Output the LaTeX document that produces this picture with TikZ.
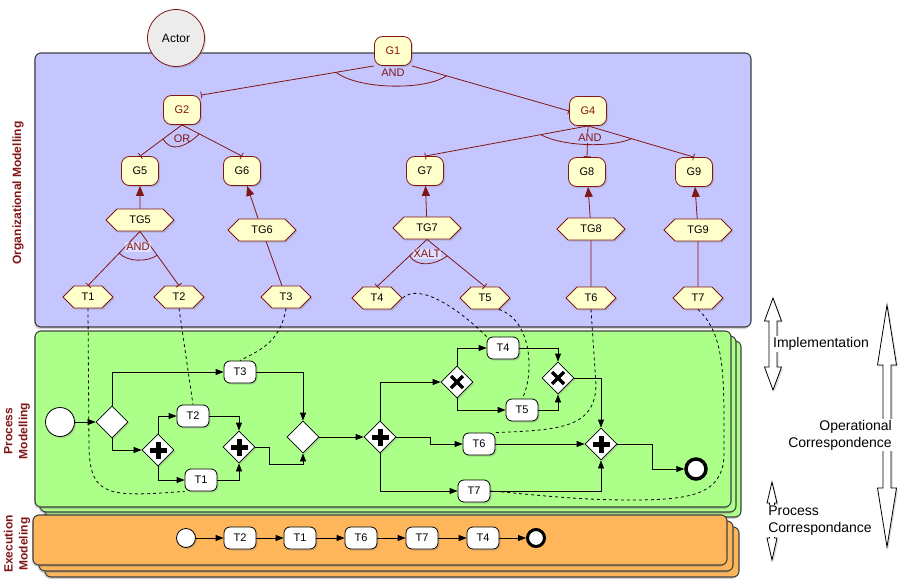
\documentclass[tikz,border=0pt]{standalone}
\usepackage{fontspec}
\setmainfont{Liberation Sans}
\usetikzlibrary{shapes.geometric,shapes.symbols,shadows,arrows.meta}

\definecolor{orgblue}{RGB}{198,198,255}
\definecolor{procgreen}{RGB}{172,255,136}
\definecolor{execorange}{RGB}{255,182,90}
\definecolor{goalyellow}{RGB}{255,255,204}
\definecolor{darkmaroon}{RGB}{128,22,22}
\definecolor{actorgray}{RGB}{236,236,236}

\tikzset{
  softshadow/.style={drop shadow={opacity=.3, shadow xshift=1.5pt, shadow yshift=-1.5pt}},
  panel/.style={draw=black!75, line width=1.1pt, rounded corners=6pt,
    drop shadow={opacity=.35, shadow xshift=-1pt, shadow yshift=-2pt}},
  actor/.style={circle, draw=darkmaroon, fill=actorgray, line width=.8pt,
    minimum size=57pt, font=\fontsize{12}{14}\selectfont, softshadow},
  goal/.style={draw=darkmaroon, fill=goalyellow, line width=.8pt, rounded corners=8pt,
    minimum width=37pt, minimum height=29pt, inner sep=1pt,
    font=\fontsize{11}{13}\selectfont, softshadow},
  hexa/.style={signal, signal to=east and west, draw=darkmaroon, fill=goalyellow,
    line width=.8pt, minimum height=22pt, inner sep=1pt,
    font=\fontsize{11}{13}\selectfont, softshadow},
  orgtask/.style={hexa, minimum width=50pt},
  taskgoal/.style={hexa, minimum width=68pt},
  decomp/.style={draw=darkmaroon, line width=.8pt, -{Bar[width=7pt]}},
  contrib/.style={draw=darkmaroon, line width=.8pt, -{Triangle[length=10pt,width=8pt]}},
  means/.style={draw=darkmaroon, line width=.8pt},
  andarc/.style={draw=darkmaroon, line width=.8pt},
  oplabel/.style={text=darkmaroon, inner sep=1pt, font=\fontsize{11}{13}\selectfont},
  pale/.style={fill=white, fill opacity=.45, text opacity=1},
  link/.style={draw=black, dashed, line width=.8pt},
  activity/.style={draw=black, fill=white, rounded corners=6pt, line width=.8pt,
    minimum width=32pt, minimum height=22pt, inner sep=1pt,
    font=\fontsize{11}{13}\selectfont, softshadow},
  gate/.style={diamond, draw=black, fill=white, line width=.8pt,
    minimum size=32pt, inner sep=0pt, softshadow},
  andgate/.style={gate, path picture={
    \fill[black] (path picture bounding box.center) ++(-8.5,-2.5) rectangle ++(17,5);
    \fill[black] (path picture bounding box.center) ++(-2.5,-8.5) rectangle ++(5,17);}},
  xorgate/.style={gate, path picture={
    \draw[black, line width=3.5pt] (path picture bounding box.center) ++(-6,-6) -- ++(12,12);
    \draw[black, line width=3.5pt] (path picture bounding box.center) ++(-6,6) -- ++(12,-12);}},
  event/.style={circle, draw=black, fill=white, line width=.8pt, minimum size=29pt,
    inner sep=0pt, softshadow},
  endevent/.style={circle, draw=black, fill=white, line width=3.5pt, minimum size=20pt,
    inner sep=0pt},
  flow/.style={draw=black, line width=.8pt, -{Triangle[length=8pt,width=6pt]}},
  sidelabel/.style={rotate=90, text=darkmaroon, align=center,
    font=\bfseries\fontsize{12}{15}\selectfont},
  corrtext/.style={fill=white, inner sep=1pt, font=\fontsize{14}{17}\selectfont},
  bigarrow/.style={draw=black, fill=white, line width=.8pt, softshadow}
}

\begin{document}
\begin{tikzpicture}[x=1pt, y=-1pt]
	\useasboundingbox (0,0) rectangle (898,581);
	
	% panels
	\draw[panel, fill=orgblue] (35,53) rectangle (751,327);
	\draw[panel, fill=procgreen] (45,341) rectangle (741,517);
	\draw[panel, fill=procgreen] (40,336) rectangle (736,512);
	\draw[panel, fill=procgreen] (35,331) rectangle (731,507);
	\draw[panel, fill=execorange] (45,527) rectangle (739,577);
	\draw[panel, fill=execorange] (39,521) rectangle (733,571);
	\draw[panel, fill=execorange] (33,515) rectangle (727,565);
	
	\node[sidelabel] (orglab) at (18,193) {Organizational Modelling};
	\node[sidelabel] (proclab) at (17,431) {Process\\Modelling};
	\node[sidelabel] (execlab) at (17,544) {Execution\\Modeling};
	
	% organizational model
	\node[actor] (actor) at (176,38) {Actor};
	\node[goal, text=darkmaroon] (G1) at (393,51) {G1};
	\node[goal, text=darkmaroon] (G2) at (182,110) {G2};
	\node[goal, text=darkmaroon] (G4) at (588,111) {G4};
	\node[goal] (G5) at (140,171) {G5};
	\node[goal] (G6) at (242,171) {G6};
	\node[goal] (G7) at (425,171) {G7};
	\node[goal] (G8) at (587,172) {G8};
	\node[goal] (G9) at (694,172) {G9};
	
	\node[taskgoal] (TG5) at (140,220) {TG5};
	\node[taskgoal] (TG6) at (262,230) {TG6};
	\node[taskgoal] (TG7) at (427,228) {TG7};
	\node[taskgoal] (TG8) at (591,229) {TG8};
	\node[taskgoal] (TG9) at (698,230) {TG9};
	
	\node[orgtask] (oT1) at (88,297) {T1};
	\node[orgtask] (oT2) at (179,297) {T2};
	\node[orgtask] (oT3) at (286,297) {T3};
	\node[orgtask] (oT4) at (377,298) {T4};
	\node[orgtask] (oT5) at (485,298) {T5};
	\node[orgtask] (oT6) at (591,298) {T6};
	\node[orgtask] (oT7) at (698,298) {T7};
	
	\draw[decomp] (G1.south west) -- coordinate[pos=.22] (g1l) (G2.north east);
	\draw[decomp] (G1.south east) -- coordinate[pos=.22] (g1r) (G4.west);
	\draw[andarc] (g1l) .. controls +(22,17) and +(-22,15) .. (g1r);
	\node[oplabel] (and1) at (393,73) {AND};
	
	\draw[decomp] (G2.south) -- coordinate[pos=.45] (g2l) (G5.north);
	\draw[decomp] (G2.south) -- coordinate[pos=.29] (g2r) (G6.north);
	\draw[andarc] (g2l) .. controls +(8,14) and +(-14,13) .. (g2r);
	\node[oplabel] (or2) at (182,139) {OR};
	
	\draw[decomp] (G4.south) -- coordinate[pos=.29] (g4l) (G7.north);
	\draw[decomp] (G4.south) -- (G8.north);
	\draw[decomp] (G4.south) -- coordinate[pos=.41] (g4r) (G9.north);
	\draw[andarc] (g4l) .. controls +(22,12) and +(-20,9) .. (g4r);
	\node[oplabel, fill=orgblue] (and4) at (590,138) {AND};
	
	\draw[decomp] (TG5.south) -- coordinate[pos=.4] (tg5l) (oT1.north);
	\draw[decomp] (TG5.south) -- coordinate[pos=.44] (tg5r) (oT2.north);
	\draw[andarc] (tg5l) .. controls +(8,9) and +(-10,7) .. (tg5r);
	\node[oplabel, pale] (and5) at (138,247) {AND};
	
	\draw[decomp] (TG7.south) -- coordinate[pos=.35] (tg7l) (oT4.north);
	\draw[decomp] (TG7.south) -- coordinate[pos=.35] (tg7r) (oT5.north);
	\draw[andarc] (tg7l) .. controls +(8,12) and +(-12,9) .. (tg7r);
	\node[oplabel, pale] (xalt7) at (427,254) {XALT};
	
	\draw[contrib] (TG5) -- (G5);
	\draw[contrib] (TG6) -- (G6);
	\draw[contrib] (TG7) -- (G7);
	\draw[contrib] (TG8) -- (G8);
	\draw[contrib] (TG9) -- (G9);
	\draw[means] (oT3) -- (TG6);
	\draw[means] (oT6) -- (TG8);
	\draw[means] (oT7) -- (TG9);
	
	% process model
	\node[event] (pstart) at (60,422) {};
	\node[gate] (D1) at (112,422) {};
	\node[andgate] (P1) at (158,450) {};
	\node[activity] (pT2) at (193,416) {T2};
	\node[activity] (pT1) at (201,480) {T1};
	\node[activity] (pT3) at (240,372) {T3};
	\node[andgate] (P2) at (239,447) {};
	\node[gate] (D2) at (303,437) {};
	\node[andgate] (P3) at (380,437) {};
	\node[xorgate] (X1) at (457,382) {};
	\node[activity] (pT4) at (503,348) {T4};
	\node[activity] (pT5) at (522,410) {T5};
	\node[xorgate] (X2) at (558,378) {};
	\node[activity] (pT6) at (479,444) {T6};
	\node[activity] (pT7) at (474,491) {T7};
	\node[andgate] (P4) at (601,444) {};
	\node[endevent] (pend) at (696,469) {};
	
	\draw[flow] (pstart) -- (D1);
	\draw[flow] (D1.north) |- (pT3);
	\draw[flow] (D1.south) |- (P1);
	\draw[flow] (P1.north) |- (pT2);
	\draw[flow] (P1.south) |- (pT1);
	\draw[flow] (pT2) -| (P2);
	\draw[flow] (pT1) -| (P2);
	\draw[flow] (P2.east) -- ++(14,0) -- ++(0,17) -| (D2.south);
	\draw[flow] (pT3) -| (D2);
	\draw[flow] (D2) -- (P3);
	\draw[flow] (P3.north) |- (X1);
	\draw[flow] (X1.north) |- (pT4);
	\draw[flow] (X1.south) |- (pT5);
	\draw[flow] (pT4) -| (X2);
	\draw[flow] (pT5) -| (X2);
	\draw[flow] (X2) -| (P4);
	\draw[flow] (P3.east) -- ++(34,0) |- (pT6);
	\draw[flow] (pT6) -- (P4);
	\draw[flow] (P3.south) |- (pT7);
	\draw[flow] (pT7) -| (P4);
	\draw[flow] (P4.east) -- ++(35,0) |- (pend);
	
	% execution model
	\node[event, minimum size=19pt] (estart) at (186,538) {};
	\node[activity] (eT2) at (240,538) {T2};
	\node[activity] (eT1) at (300,538) {T1};
	\node[activity] (eT6) at (361,538) {T6};
	\node[activity] (eT7) at (422,538) {T7};
	\node[activity] (eT4) at (483,538) {T4};
	\node[endevent, line width=3pt, minimum size=17pt] (eend) at (536,538) {};
	\foreach \a/\b in {estart/eT2, eT2/eT1, eT1/eT6, eT6/eT7, eT7/eT4, eT4/eend}
		\draw[flow] (\a) -- (\b);
	
	% correspondence links
	\draw[link] (oT1.south) -- (89,450) .. controls (91,497) and (110,497) .. (pT1.south west);
	\draw[link] (oT2.south) -- (pT2.north);
	\draw[link] (oT3.south) .. controls (280,345) and (255,352) .. (pT3.north);
	\draw[link] (oT4.east) .. controls (420,282) and (460,310) .. (pT4.north west);
	\draw[link] ([xshift=14pt]oT5.south) .. controls (535,322) and (533,380) .. (pT5.north);
	\draw[link] (oT6.south) -- (596,385) .. controls (595,428) and (560,430) .. (pT6.north east);
	\draw[link] (oT7.south) .. controls (720,330) and (724,360) .. (724,420)
		-- (724,455) .. controls (723,495) and (690,500) .. (630,500)
		.. controls (570,500) and (520,493) .. (pT7.east);
	
	% correspondence arrows
	\draw[bigarrow] (773,298) -- (781.5,321) -- (777,321) -- (777,367) -- (781.5,367)
		-- (773,390) -- (764.5,367) -- (769,367) -- (769,321) -- (764.5,321) -- cycle;
	\draw[bigarrow] (887,305) -- (896.5,365) -- (891,365) -- (891,488) -- (896.5,488)
		-- (887,547) -- (877.5,488) -- (883,488) -- (883,365) -- (877.5,365) -- cycle;
	\draw[bigarrow] (772,482) -- (777,503) -- (774.5,503) -- (774.5,538) -- (777,538)
		-- (772,560) -- (767,538) -- (769.5,538) -- (769.5,503) -- (767,503) -- cycle;
	
	\node[corrtext, align=left] (impl) at (821,344) {Implementation};
	\node[corrtext, align=right] (opcorr) at (840,435) {Operational\\Correspondence};
	\node[corrtext, align=left] (pcorr) at (820,521) {Process\\Correspondance};
\end{tikzpicture}
\end{document}
